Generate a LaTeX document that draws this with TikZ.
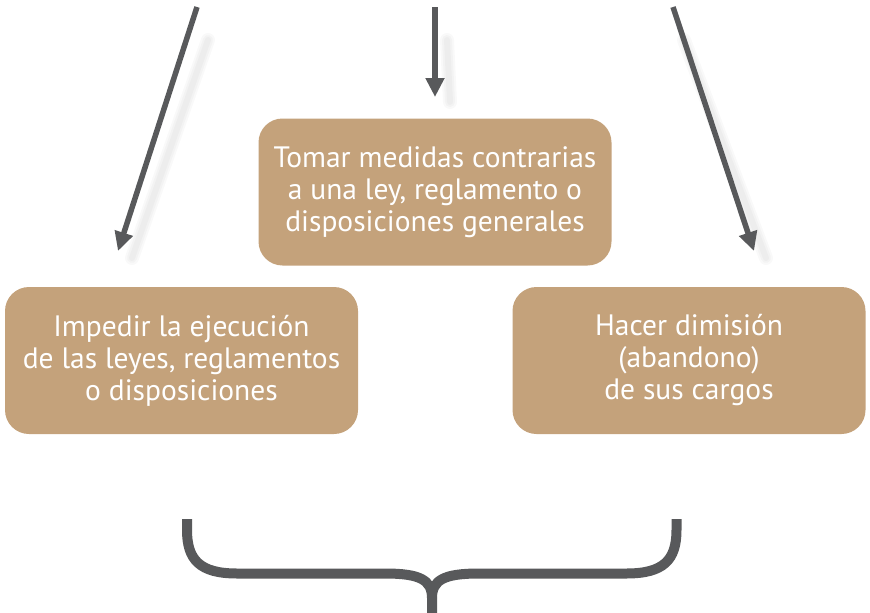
\documentclass[tikz,border=0pt]{standalone}
\usepackage{fontspec}
\setmainfont{PT Sans}
\usetikzlibrary{arrows.meta}
\definecolor{boxc}{HTML}{C4A27B}
\definecolor{linec}{HTML}{58595B}
\tikzset{
  box/.style={draw=none, fill=boxc, rounded corners=24pt, minimum width=353pt, minimum height=147pt,
    inner sep=0pt, text=white, align=center, font=\fontsize{29.5}{32}\selectfont},
  arr/.style={draw=linec, line width=5.5pt, -{Triangle[length=19pt,width=18pt]}},
  shad/.style={draw=black, opacity=0.025, line cap=round},
  brace/.style={draw=linec, line width=10pt}
}
\begin{document}
\begin{tikzpicture}[x=1pt,y=-1pt]
\useasboundingbox (0,0) rectangle (870,613);
% shadows
\foreach \w in {6,10,14}{
  \draw[shad, line width=\w pt] (208,40) -- (132,258);
  \draw[shad, line width=\w pt] (447,40) -- (450,102);
  \draw[shad, line width=\w pt] (684,40) -- (766,258);
}
% boxes
\node[box] (top) at (435,192) {Tomar medidas contrarias\\a una ley, reglamento o\\disposiciones generales};
\node[box] (left) at (181.5,360.5) {Impedir la ejecución\\de las leyes, reglamentos\\o disposiciones};
\node[box] (right) at (689,360.5) {Hacer dimisión\\(abandono)\\de sus cargos};
% arrows
\coordinate (a1s) at (197,7);
\coordinate (a1e) at (118,251);
\coordinate (a2s) at (435,7);
\coordinate (a2e) at (435,97);
\coordinate (a3s) at (673,7);
\coordinate (a3e) at (754,251);
\draw[arr] (a1s) -- (a1e);
\draw[arr] (a2s) -- (a2e);
\draw[arr] (a3s) -- (a3e);
% brace
\coordinate (bl) at (187,519);
\coordinate (br) at (676.5,519);
\coordinate (bm) at (432,613);
\draw[brace] (bl) -- (187,530) .. controls (187,560) and (200,573.5) .. (237,573.5)
  -- (385,573.5) .. controls (420,573.5) and (432,580) .. (432,598) -- (bm);
\draw[brace] (br) -- (676.5,530) .. controls (676.5,560) and (663.5,573.5) .. (626.5,573.5)
  -- (479,573.5) .. controls (444,573.5) and (432,580) .. (432,598);
\end{tikzpicture}
\end{document}
